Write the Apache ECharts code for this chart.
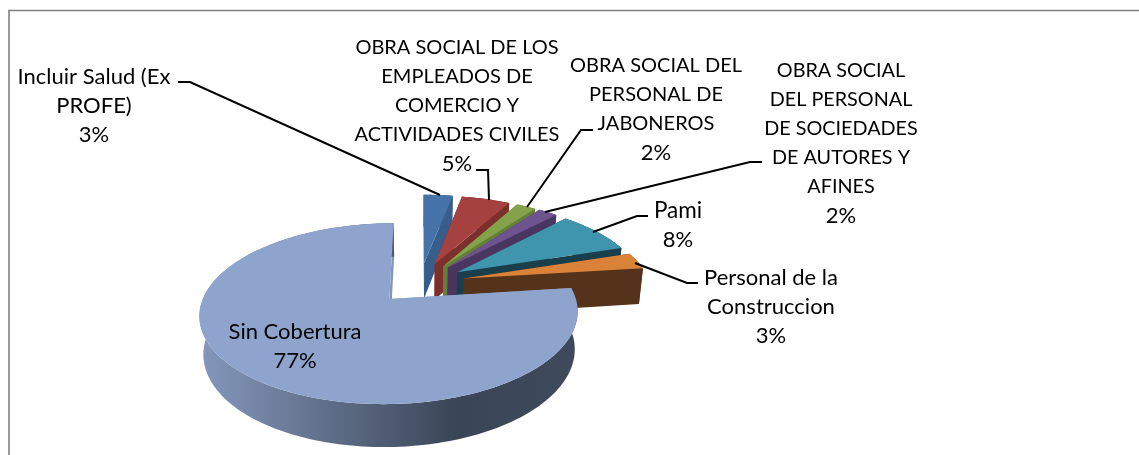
<!DOCTYPE html>
<html>
<head>
<meta charset="utf-8">
<style>
  html, body { margin: 0; padding: 0; background: #fff; }
  #chart { width: 1139px; height: 455px; }
</style>
</head>
<body>
<div id="chart"></div>
<script src="https://cdn.jsdelivr.net/npm/echarts@6/dist/echarts.min.js"></script>
<script>
const categories = [
  "Incluir Salud (Ex\nPROFE)",
  "OBRA SOCIAL DE LOS\nEMPLEADOS DE\nCOMERCIO Y\nACTIVIDADES CIVILES",
  "OBRA SOCIAL DEL\nPERSONAL DE\nJABONEROS",
  "OBRA SOCIAL\nDEL PERSONAL\nDE SOCIEDADES\nDE AUTORES Y\nAFINES",
  "Pami",
  "Personal de la\nConstruccion",
  "Sin Cobertura",
];
const values = [3, 5, 2, 2, 8, 3, 77];

const topColors = ["#4674a8", "#a5423f", "#84a24a", "#6e548e", "#4095ae", "#d98238", "#8fa4cc"];
const wallColors = ["#375d8c", "#7c2f2c", "#667f38", "#4a3560", "#1a3f4c", "#55321a", "#3c4759"];

// label centre x / y of the first line, font size
const labelPos = [
  [94, 76, 22], [457, 47, 20], [656, 65, 20], [841, 70, 19.8], [678, 210, 22.5], [771, 277, 22], [295, 331, 22],
];
const leaders = [
  [[178, 82], [190, 82], [440, 195]],
  [[476, 170], [488, 170], [489, 200]],
  [[593, 130], [581, 130], [527, 207]],
  [[762, 162], [750, 162], [545, 212]],
  [[648, 216], [637, 216], [593, 232]],
  [[698, 283], [687, 283], [635, 263]],
];

// 3d pie camera, fitted to the picture
const cx = 420, cy = 283;
const smallR = 187, bigR = 181, H = 36.6, explode = 45;
const tilt = 0.458, persp = 0.000876, zShrink = 0.018;

function project(X, Y, z) {
  const s = 1 / (1 + persp * Y);
  const sz = s * (1 - zShrink * z);
  return [cx + X * sz, cy - tilt * Y * sz + H * z * s];
}

const total = values.reduce((a, b) => a + b, 0);
const slices = [];
let acc = 0;
values.forEach((v) => {
  const a0 = (acc / total) * Math.PI * 2;
  acc += v;
  const a1 = (acc / total) * Math.PI * 2;
  slices.push({ a0, a1 });
});

function renderSlice(params, api) {
  const i = params.dataIndex;
  const big = i === values.length - 1;
  const R = big ? bigR : smallR;
  const { a0, a1 } = slices[i];
  const mid = (a0 + a1) / 2;
  const dx = explode * Math.sin(mid);
  const dy = explode * Math.cos(mid);
  const rim = [];
  const steps = Math.max(4, Math.ceil((a1 - a0) * 40));
  for (let k = 0; k <= steps; k++) {
    const a = a0 + ((a1 - a0) * k) / steps;
    rim.push([dx + R * Math.sin(a), dy + R * Math.cos(a)]);
  }
  const p = (xy, z) => project(xy[0], xy[1], z);
  const apex = [dx, dy];
  const wallFill = big
    ? new echarts.graphic.LinearGradient(0, 0, 1, 0, [
        { offset: 0, color: "#8598bc" },
        { offset: 0.68, color: "#3a4556" },
        { offset: 1, color: "#3e4a5c" },
      ])
    : wallColors[i];

  const poly = (points, fill) => ({
    type: "polygon",
    shape: { points },
    style: { fill },
  });
  const children = [];
  // radial walls first, then the outer wall, then the top face
  [rim[0], rim[rim.length - 1]].forEach((e) => {
    children.push(poly([p(apex, 0), p(e, 0), p(e, 1), p(apex, 1)], big ? "#8296b8" : wallColors[i]));
  });
  children.push(poly(rim.map((e) => p(e, 0)).concat(rim.slice().reverse().map((e) => p(e, 1))), wallFill));
  children.push(poly([p(apex, 0)].concat(rim.map((e) => p(e, 0))), topColors[i]));
  return { type: "group", children };
}

const chart = echarts.init(document.getElementById("chart"), null, { renderer: "canvas" });

const labelFont = { fontFamily: "Lato", lineHeight: 29, fill: "#000", align: "center", verticalAlign: "top" };

// names keep their own size, the percent line is always the larger one
function labelStyle(name, value, size) {
  const lines = name.split("\n").map((l) => "{n|" + l + "}");
  lines.push("{p|" + value + "%}");
  return {
    ...labelFont,
    text: lines.join("\n"),
    rich: {
      n: { fontFamily: "Lato", fontSize: size, lineHeight: 29, fill: "#000", align: "center" },
      p: { fontFamily: "Lato", fontSize: 22, lineHeight: 29, fill: "#000", align: "center" },
    },
  };
}

const option = {
  animation: false,
  backgroundColor: "#fff",
  graphic: {
    elements: [
      {
        type: "polyline",
        z: 0,
        silent: true,
        shape: { points: [[9, 455], [9, 10.5], [1139, 10.5]] },
        style: { stroke: "#808080", lineWidth: 1.6, fill: null },
      },
      ...leaders.map((pts) => ({
        type: "polyline",
        z: 5,
        silent: true,
        shape: { points: pts },
        style: { stroke: "#000", lineWidth: 2, fill: null },
      })),
      ...categories.map((name, i) => ({
        type: "text",
        z: 6,
        silent: true,
        x: labelPos[i][0],
        y: labelPos[i][1] - 14,
        style: labelStyle(name, values[i], labelPos[i][2]),
      })),
    ],
  },
  series: [
    {
      type: "custom",
      coordinateSystem: "none",
      silent: true,
      renderItem: renderSlice,
      data: values,
      z: 2,
    },
  ],
};
chart.setOption(option);
</script>
</body>
</html>
